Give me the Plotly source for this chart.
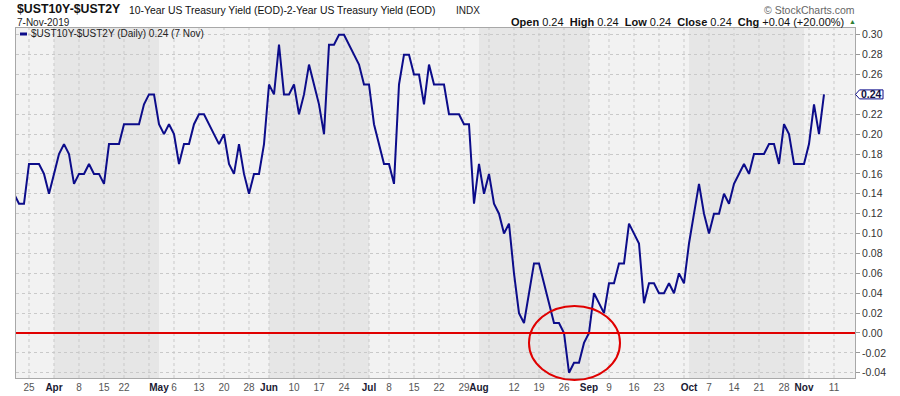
import pandas as pd
import plotly.graph_objects as go

# ---------------- data ----------------
holidays = ["2019-04-19", "2019-05-27", "2019-07-04", "2019-09-02"]
trading_days = [d for d in pd.bdate_range("2019-03-20", "2019-11-11")
                if d.strftime("%Y-%m-%d") not in holidays]

spread = [
    0.14,
    0.13, 0.13, 0.17, 0.17, 0.17, 0.16, 0.14, 0.16, 0.18, 0.19,
    0.18, 0.15, 0.16, 0.16, 0.17, 0.16, 0.16, 0.15, 0.19, 0.19,
    0.19, 0.21, 0.21, 0.21, 0.21, 0.23, 0.24, 0.24, 0.21, 0.20,
    0.21, 0.20, 0.17, 0.19, 0.19, 0.21, 0.22, 0.22, 0.21, 0.20,
    0.19, 0.20, 0.17, 0.16, 0.19, 0.16, 0.14, 0.16, 0.16, 0.19,
    0.25, 0.24, 0.29, 0.24, 0.24, 0.25, 0.22, 0.24, 0.27, 0.25,
    0.23, 0.20, 0.29, 0.29, 0.30, 0.30, 0.29, 0.28, 0.27, 0.25,
    0.25, 0.21, 0.19, 0.17, 0.17, 0.15, 0.25, 0.28, 0.28, 0.26,
    0.26, 0.23, 0.27, 0.25, 0.25, 0.25, 0.22, 0.22, 0.22, 0.21,
    0.21, 0.13, 0.17, 0.14, 0.16, 0.13, 0.12, 0.10, 0.11, 0.06,
    0.02, 0.01, 0.04, 0.07, 0.07, 0.05, 0.03, 0.01, 0.01, 0.00,
    -0.04, -0.03, -0.03, -0.01, 0.00, 0.04, 0.03, 0.02, 0.05, 0.05,
    0.07, 0.07, 0.11, 0.10, 0.09, 0.03, 0.05, 0.05, 0.04, 0.04,
    0.05, 0.04, 0.06, 0.05, 0.09, 0.12, 0.15, 0.12, 0.10, 0.12,
    0.12, 0.14, 0.13, 0.15, 0.16, 0.17, 0.16, 0.18, 0.18, 0.18,
    0.19, 0.19, 0.17, 0.21, 0.20, 0.17, 0.17, 0.17, 0.19, 0.23,
    0.20, 0.24,
]

tick_dates = ["2019-03-25", "2019-04-01", "2019-04-08", "2019-04-15", "2019-04-22",
              "2019-05-01", "2019-05-06", "2019-05-13", "2019-05-20", "2019-05-28",
              "2019-06-03", "2019-06-10", "2019-06-17", "2019-06-24", "2019-07-01",
              "2019-07-08", "2019-07-15", "2019-07-22", "2019-07-29", "2019-08-01",
              "2019-08-12", "2019-08-19", "2019-08-26", "2019-09-03", "2019-09-09",
              "2019-09-16", "2019-09-23", "2019-10-01", "2019-10-07", "2019-10-14",
              "2019-10-21", "2019-10-28", "2019-11-01", "2019-11-11"]
tick_labels = ["25", "Apr", "8", "15", "22", "May", "6", "13", "20", "28",
               "Jun", "10", "17", "24", "Jul", "8", "15", "22", "29", "Aug",
               "12", "19", "26", "Sep", "9", "16", "23", "Oct", "7", "14",
               "21", "28", "Nov", "11"]
month_names = {"Apr", "May", "Jun", "Jul", "Aug", "Sep", "Oct", "Nov"}
shaded_months = [("2019-04-01", "2019-05-01"), ("2019-06-03", "2019-07-01"),
                 ("2019-08-01", "2019-09-03"), ("2019-10-01", "2019-11-01")]
y_ticks = [-0.04, -0.02, 0.00, 0.02, 0.04, 0.06, 0.08, 0.10, 0.12, 0.14,
           0.16, 0.18, 0.20, 0.22, 0.24, 0.26, 0.28, 0.30]

# ---------------- helpers ----------------
day_str = [d.strftime("%Y-%m-%d") for d in trading_days]
pos = {s: i for i, s in enumerate(day_str)}
x_vals = list(range(len(spread)))

W, H = 900, 396
L, R, T, B = 16, 45, 28, 18
PW, PH = W - L - R, H - T - B
Y0, Y1 = -0.0453, 0.3068


def px(x):
    return (x - L) / PW


def py(y):
    return (H - B - y) / PH


FONT = "Liberation Sans, Arial, sans-serif"
NAVY = "#0c0c8a"

fig = go.Figure()
fig.add_trace(go.Scatter(
    x=x_vals, y=spread, mode="lines",
    line=dict(color=NAVY, width=2),
    customdata=day_str[:len(spread)],
    hovertemplate="%{customdata}: %{y:.2f}<extra></extra>",
    showlegend=False, name="$UST10Y-$UST2Y",
))

shapes = []
# month shading
for a, b in shaded_months:
    shapes.append(dict(type="rect", xref="x", yref="paper", x0=pos[a], x1=pos[b],
                       y0=0, y1=1, fillcolor="#e6e6e6", line=dict(width=0),
                       layer="below"))
# weekly vertical gridlines (first trading day of each week)
for i in range(1, len(trading_days)):
    if trading_days[i].isocalendar()[1] != trading_days[i - 1].isocalendar()[1]:
        shapes.append(dict(type="line", xref="x", yref="paper", x0=i, x1=i,
                           y0=0, y1=1, line=dict(color="#c9c9c9", width=1, dash="dot"),
                           layer="below"))
# zero line
shapes.append(dict(type="line", xref="paper", yref="y", x0=0, x1=1, y0=0, y1=0,
                   line=dict(color="#e00000", width=2), layer="above"))
# red ellipse
shapes.append(dict(type="circle", xref="paper", yref="paper",
                   x0=px(529), x1=px(620), y0=py(380), y1=py(306),
                   line=dict(color="#e00000", width=2), layer="above"))
# legend dash
shapes.append(dict(type="line", xref="paper", yref="paper",
                   x0=px(20), x1=px(27), y0=py(34), y1=py(34),
                   line=dict(color=NAVY, width=3)))
# last value tag pointer
ytag = (spread[-1] - Y0) / (Y1 - Y0)
hh = 4.5 / PH
shapes.append(dict(type="path", xref="paper", yref="paper",
                   path=f"M {px(855.5)},{ytag} L {px(859.5)},{ytag + hh} "
                        f"L {px(883)},{ytag + hh} L {px(883)},{ytag - hh} "
                        f"L {px(859.5)},{ytag - hh} Z",
                   fillcolor="white", line=dict(color=NAVY, width=1)))

annotations = [
    dict(x=px(15), y=py(9.5), text="<b>$UST10Y-$UST2Y</b>", font=dict(size=12.3, color="#111")),
    dict(x=px(127), y=py(10), text="10-Year US Treasury Yield (EOD)-2-Year US Treasury Yield (EOD)",
         font=dict(size=10.4, color="#111")),
    dict(x=px(454), y=py(10), text="INDX", font=dict(size=10, color="#222")),
    dict(x=px(15), y=py(22), text="7-Nov-2019", font=dict(size=10, color="#222")),
    dict(x=px(857), y=py(10), text="© StockCharts.com", xanchor="right",
         font=dict(size=10.5, color="#666")),
    dict(x=px(846), y=py(22.5), xanchor="right",
         text="<b>Open</b> 0.24  <b>High</b> 0.24  <b>Low</b> 0.24  <b>Close</b> 0.24  "
              "<b>Chg</b> +0.04 (+20.00%)",
         font=dict(size=11, color="#111")),
    dict(x=px(852), y=py(21.5), xanchor="center", text="▲", font=dict(size=7, color="#2e7d32")),
    dict(x=px(29), y=py(34), text="$UST10Y-$UST2Y (Daily) 0.24 (7 Nov)",
         font=dict(size=10, color="#222")),
    dict(x=px(871.5), y=ytag, xanchor="center", text="<b>0.24</b>",
         font=dict(size=10.5, color="#101040")),
]
for a in annotations:
    a.setdefault("xanchor", "left")
    a.update(xref="paper", yref="paper", yanchor="middle", showarrow=False,
             font=dict(family=FONT, **a["font"]))

tick_text = [f"<b><span style='color:#1a1a33'>{t}</span></b>" if t in month_names else t
             for t in tick_labels]

fig.update_layout(
    width=W, height=H,
    margin=dict(l=L, r=R, t=T, b=B, autoexpand=False),
    paper_bgcolor="white", plot_bgcolor="#f2f2f2",
    font=dict(family=FONT, size=10, color="#444"),
    shapes=shapes, annotations=annotations,
    showlegend=False,
    xaxis=dict(range=[0.4, 168.2], tickmode="array",
               tickvals=[pos[d] for d in tick_dates], ticktext=tick_text,
               tickangle=0, automargin=False,
               showgrid=False, zeroline=False, showline=True, mirror=True,
               linecolor="#a8a8a8", linewidth=1, ticks="",
               tickfont=dict(size=10, color="#555")),
    yaxis=dict(range=[Y0, Y1], side="right", tickmode="array", automargin=False,
               tickvals=y_ticks, ticktext=[f"{v:.2f}" for v in y_ticks],
               showgrid=True, gridcolor="#c9c9c9", griddash="dot", gridwidth=1,
               zeroline=False, showline=True, mirror=True, linecolor="#a8a8a8",
               ticks="outside", ticklen=4, tickcolor="#999",
               tickfont=dict(size=10.5, color="#333")),
)

fig.write_html("out.html", config={"displayModeBar": False},
               post_script="document.body.style.margin='0';document.body.style.overflow='hidden';")
